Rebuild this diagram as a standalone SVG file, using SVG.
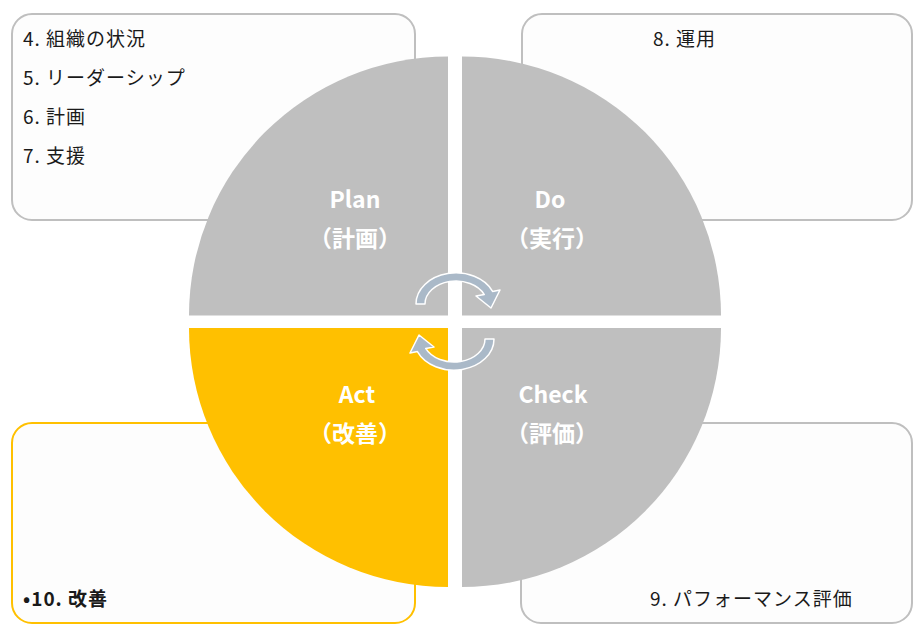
<svg xmlns="http://www.w3.org/2000/svg" width="914" height="624" viewBox="0 0 914 624">
<style>
.box{fill:#fdfdfd;stroke:#bfbfbf;stroke-width:2}
.boxy{fill:#fdfdfd;stroke:#ffc000;stroke-width:2}
.q{fill:#bfbfbf}
.qa{fill:#ffc000}
.t{font-family:"Noto Sans CJK JP","Noto Sans",sans-serif;font-size:19px;letter-spacing:1px;fill:#1a1a1a}
.tb{font-family:"Noto Sans CJK JP","Noto Sans",sans-serif;font-size:19px;letter-spacing:1px;font-weight:bold;fill:#1a1a1a}
.lab{font-family:"Noto Sans CJK JP","Noto Sans",sans-serif;font-size:23px;font-weight:bold;fill:#ffffff;text-anchor:middle}
.arr{fill:#aab9c8;stroke:#ffffff;stroke-width:1.5;stroke-linejoin:round}
</style>
<defs>
<path id="carrow" d="M416 304 A40 31 0 0 1 492.6 291.4 L500 290 L491 308 L476 296 L484.3 294.6 A31 23 0 0 0 425 304 Z"/>
</defs>
<g id="box-plan">
<rect class="box" x="12" y="14" width="403" height="206" rx="20"/>
<text class="t" x="23" y="46">4. 組織の状況</text>
<text class="t" x="23" y="85">5. リーダーシップ</text>
<text class="t" x="23" y="124">6. 計画</text>
<text class="t" x="23" y="163">7. 支援</text>
</g>
<g id="box-do">
<rect class="box" x="522" y="14" width="390" height="206" rx="20"/>
<text class="t" x="653" y="46">8. 運用</text>
</g>
<g id="box-act">
<rect class="boxy" x="12" y="423" width="403" height="200" rx="20"/>
<text class="tb" x="23" y="606">•10. 改善</text>
</g>
<g id="box-check">
<rect class="box" x="521" y="423" width="391" height="200" rx="20"/>
<text class="t" x="650" y="606">9. パフォーマンス評価</text>
</g>
<g id="plan">
<path class="q" d="M448 315.5 L189 315.5 A259 259 0 0 1 448 56.5 Z"/>
<text class="lab" x="355" y="208">Plan</text>
<text class="lab" x="355" y="247">（計画）</text>
</g>
<g id="do">
<path class="q" d="M462 315.5 L462 56.5 A259 259 0 0 1 721 315.5 Z"/>
<text class="lab" x="550" y="208">Do</text>
<text class="lab" x="552" y="247">（実行）</text>
</g>
<g id="check">
<path class="q" d="M462 328 L721 328 A259 259 0 0 1 462 587 Z"/>
<text class="lab" x="553" y="403">Check</text>
<text class="lab" x="552" y="442">（評価）</text>
</g>
<g id="act">
<path class="qa" d="M448 328 L448 587 A259 259 0 0 1 189 328 Z"/>
<text class="lab" x="357" y="403">Act</text>
<text class="lab" x="355" y="442">（改善）</text>
</g>
<g id="connectors">
<use href="#carrow" class="arr"/>
<use href="#carrow" class="arr" transform="rotate(180 455 321.5)"/>
</g>
</svg>
